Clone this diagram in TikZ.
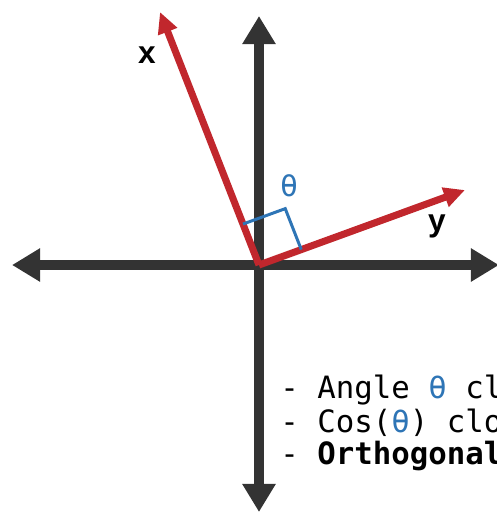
\documentclass[tikz,border=0pt]{standalone}
\usepackage{fontspec}
\usepackage{tikz}
\usetikzlibrary{arrows.meta,calc}
\setmonofont{DejaVu Sans Mono}
\newfontfamily\labelfont{Liberation Sans}
\definecolor{axgray}{HTML}{333333}
\definecolor{vecred}{HTML}{C1272D}
\definecolor{angblue}{HTML}{2E75B6}

\tikzset{
  axis/.style={axgray,line width=5.5pt,{Triangle[length=16pt,width=18pt]}-{Triangle[length=16pt,width=18pt]}},
  vector/.style={vecred,line width=4pt,-{Triangle[length=12pt,width=11pt]}},
  veclabel/.style={font=\labelfont\bfseries\fontsize{18}{20}\selectfont,text=black},
  note/.style={anchor=base west,inner sep=0pt,font=\ttfamily\fontsize{17.5}{20}\selectfont,text=black}
}

\begin{document}
\begin{tikzpicture}[x=0.02cm,y=-0.02cm]
  \useasboundingbox (0,0) rectangle (497,512);
  \fill[white] (0,0) rectangle (497,512);
  % axes
  \coordinate (o) at (259,265);
  \coordinate (left) at (12,265);
  \coordinate (right) at (499,265);
  \coordinate (top) at (259,16);
  \coordinate (bottom) at (259,512);
  \draw[axis] (left) -- (right);
  \draw[axis] (bottom) -- (top);
  % vectors
  \coordinate (xt) at (160,12);
  \coordinate (yt) at (465,190);
  \draw[vector] (o) -- (xt);
  \draw[vector] (o) -- (yt);
  \node[veclabel] (xlab) at (147,55) {x};
  \node[veclabel] (ylab) at (437,226) {y};
  % right angle
  \coordinate (ma) at ($(o)!0.88cm!(xt)$);
  \coordinate (mb) at ($(o)!0.9cm!(yt)$);
  \coordinate (mc) at ($(ma)+(mb)-(o)$);
  \draw[angblue,line width=1.7pt] (ma) -- (mc) -- (mb);
  \node[font=\ttfamily\fontsize{17}{20}\selectfont,text=angblue] (theta) at (289,186) {θ};
  % notes
  \clip (0,0) rectangle (497,512);
  \node[note] (n1) at (280,398) {- Angle \textcolor{angblue}{θ} cl};
  \node[note] (n2) at (280,432) {- Cos(\textcolor{angblue}{θ}) clo};
  \node[note] (n3) at (280,464) {- \textbf{Orthogonal}};
\end{tikzpicture}
\end{document}
